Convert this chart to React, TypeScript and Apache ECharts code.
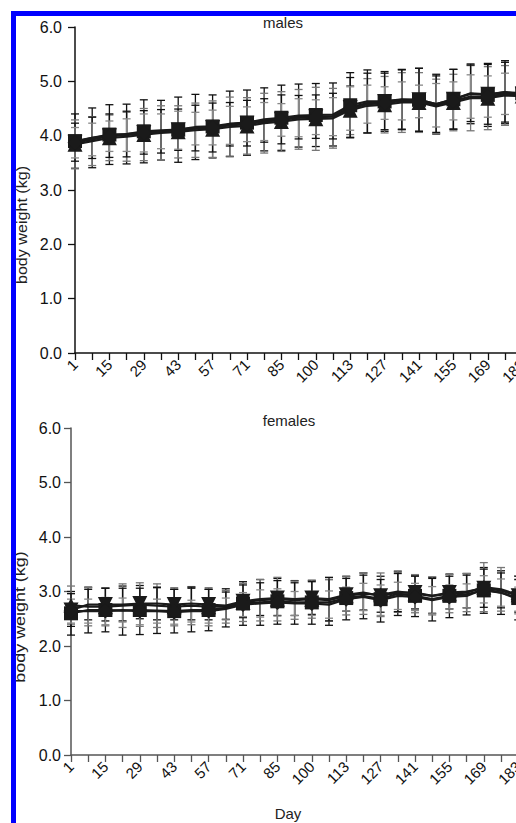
import React, { useEffect, useRef } from "react";
import * as echarts from "echarts";

// ---- data ----
const days = [1, 8, 15, 22, 29, 36, 43, 50, 57, 64, 71, 78, 85, 92, 100, 106, 113, 120, 127, 134, 141, 148, 155, 162, 169, 176, 183, 190];
const yTicks = [0, 1, 2, 3, 4, 5, 6];

// males: means (kg) per group
const maleSquare = [3.90, 3.96, 4.02, 4.03, 4.08, 4.10, 4.11, 4.16, 4.17, 4.22, 4.24, 4.30, 4.33, 4.37, 4.38, 4.39, 4.56, 4.63, 4.63, 4.67, 4.66, 4.58, 4.67, 4.77, 4.75, 4.80, 4.78, 4.81];
const maleTriangle = [3.84, 3.90, 3.96, 3.98, 4.02, 4.05, 4.07, 4.10, 4.12, 4.16, 4.18, 4.23, 4.26, 4.30, 4.31, 4.32, 4.47, 4.55, 4.57, 4.61, 4.61, 4.54, 4.61, 4.69, 4.69, 4.74, 4.73, 4.75];
const maleInverted = [3.88, 3.96, 4.00, 4.03, 4.06, 4.08, 4.11, 4.14, 4.15, 4.21, 4.23, 4.28, 4.30, 4.34, 4.35, 4.36, 4.52, 4.60, 4.63, 4.66, 4.66, 4.58, 4.67, 4.78, 4.76, 4.80, 4.76, 4.78];
const maleDiamond = [3.87, 3.93, 3.99, 4.01, 4.05, 4.08, 4.10, 4.13, 4.15, 4.19, 4.21, 4.26, 4.29, 4.33, 4.34, 4.35, 4.50, 4.58, 4.60, 4.64, 4.63, 4.56, 4.64, 4.72, 4.72, 4.77, 4.75, 4.77];
// males: SD
const maleSquareSd = [0.50, 0.55, 0.55, 0.55, 0.58, 0.55, 0.60, 0.60, 0.58, 0.60, 0.60, 0.58, 0.60, 0.58, 0.58, 0.58, 0.60, 0.58, 0.55, 0.55, 0.58, 0.55, 0.55, 0.55, 0.58, 0.58, 0.58, 0.58];
const maleTriangleSd = [0.45, 0.45, 0.42, 0.45, 0.48, 0.50, 0.48, 0.50, 0.52, 0.55, 0.52, 0.55, 0.55, 0.55, 0.58, 0.55, 0.45, 0.50, 0.52, 0.55, 0.55, 0.50, 0.52, 0.60, 0.58, 0.55, 0.55, 0.55];
const maleInvertedSd = [0.35, 0.38, 0.40, 0.42, 0.40, 0.40, 0.38, 0.42, 0.45, 0.40, 0.42, 0.40, 0.45, 0.40, 0.40, 0.42, 0.55, 0.55, 0.52, 0.55, 0.58, 0.52, 0.55, 0.52, 0.55, 0.55, 0.55, 0.55];
const maleDiamondSd = [0.28, 0.30, 0.28, 0.30, 0.35, 0.32, 0.35, 0.30, 0.32, 0.35, 0.32, 0.35, 0.30, 0.35, 0.32, 0.35, 0.40, 0.35, 0.30, 0.35, 0.30, 0.40, 0.35, 0.40, 0.38, 0.38, 0.38, 0.40];

// females: means (kg) per group
const femaleSquare = [2.60, 2.66, 2.66, 2.65, 2.66, 2.65, 2.64, 2.66, 2.66, 2.70, 2.78, 2.80, 2.82, 2.80, 2.80, 2.80, 2.88, 2.92, 2.86, 2.96, 2.92, 2.86, 2.92, 2.95, 3.02, 2.98, 2.88, 2.85];
const femaleTriangle = [2.75, 2.72, 2.72, 2.74, 2.76, 2.74, 2.72, 2.74, 2.72, 2.72, 2.80, 2.84, 2.86, 2.84, 2.86, 2.84, 2.92, 2.96, 2.94, 3.00, 2.96, 2.92, 2.96, 2.98, 3.08, 3.04, 2.94, 2.90];
const femaleInverted = [2.66, 2.76, 2.76, 2.76, 2.78, 2.78, 2.76, 2.78, 2.76, 2.74, 2.82, 2.86, 2.88, 2.86, 2.88, 2.86, 2.94, 2.98, 2.92, 2.98, 2.98, 2.92, 2.98, 3.00, 3.06, 3.02, 2.92, 2.92];
const femaleDiamond = [2.64, 2.64, 2.64, 2.66, 2.64, 2.64, 2.62, 2.64, 2.64, 2.68, 2.76, 2.78, 2.80, 2.78, 2.78, 2.76, 2.86, 2.90, 2.84, 2.92, 2.90, 2.84, 2.90, 2.92, 3.04, 2.98, 2.86, 2.86];
// females: SD
const femaleSquareSd = [0.40, 0.42, 0.40, 0.45, 0.45, 0.42, 0.40, 0.40, 0.38, 0.35, 0.40, 0.42, 0.42, 0.40, 0.40, 0.42, 0.40, 0.42, 0.42, 0.40, 0.38, 0.40, 0.40, 0.38, 0.42, 0.40, 0.40, 0.40];
const femaleTriangleSd = [0.35, 0.35, 0.35, 0.40, 0.40, 0.40, 0.35, 0.35, 0.35, 0.30, 0.35, 0.38, 0.40, 0.35, 0.35, 0.38, 0.35, 0.38, 0.40, 0.38, 0.35, 0.35, 0.35, 0.35, 0.45, 0.40, 0.35, 0.35];
const femaleInvertedSd = [0.30, 0.28, 0.30, 0.30, 0.28, 0.30, 0.28, 0.30, 0.28, 0.25, 0.30, 0.30, 0.32, 0.30, 0.30, 0.40, 0.30, 0.32, 0.30, 0.35, 0.30, 0.32, 0.30, 0.30, 0.35, 0.32, 0.30, 0.30];
const femaleDiamondSd = [0.22, 0.22, 0.25, 0.22, 0.25, 0.22, 0.22, 0.20, 0.22, 0.20, 0.22, 0.25, 0.25, 0.22, 0.22, 0.25, 0.22, 0.25, 0.28, 0.25, 0.25, 0.25, 0.22, 0.22, 0.25, 0.25, 0.22, 0.22];

const FONT = "Liberation Sans, Arial, sans-serif";

type Group = { mean: number[]; sd: number[]; symbol: string; size: number; rotate: number; barColor: string };

const maleGroups: Group[] = [
  { mean: maleSquare, sd: maleSquareSd, symbol: "rect", size: 14, rotate: 0, barColor: "#111" },
  { mean: maleTriangle, sd: maleTriangleSd, symbol: "triangle", size: 15, rotate: 0, barColor: "#777" },
  { mean: maleInverted, sd: maleInvertedSd, symbol: "triangle", size: 15, rotate: 180, barColor: "#111" },
  { mean: maleDiamond, sd: maleDiamondSd, symbol: "diamond", size: 15, rotate: 0, barColor: "#888" },
];
const femaleGroups: Group[] = [
  { mean: femaleSquare, sd: femaleSquareSd, symbol: "rect", size: 14, rotate: 0, barColor: "#111" },
  { mean: femaleTriangle, sd: femaleTriangleSd, symbol: "triangle", size: 15, rotate: 0, barColor: "#777" },
  { mean: femaleInverted, sd: femaleInvertedSd, symbol: "triangle", size: 15, rotate: 180, barColor: "#111" },
  { mean: femaleDiamond, sd: femaleDiamondSd, symbol: "diamond", size: 15, rotate: 0, barColor: "#888" },
];

function buildSeries(groups: Group[], gi: number) {
  const out: any[] = [];
  groups.forEach((g) => {
    const color = g.barColor;
    out.push({
      type: "custom",
      xAxisIndex: gi,
      yAxisIndex: gi,
      z: 2,
      encode: { x: 0, y: [1, 2] },
      data: g.mean.map((m, i) => [i, m - g.sd[i], m + g.sd[i]]),
      renderItem: (params: any, api: any) => {
        const idx = api.value(0);
        const lo = api.coord([idx, api.value(1)]);
        const hi = api.coord([idx, api.value(2)]);
        const w = 4;
        const style = { stroke: color, lineWidth: 1.3 };
        return {
          type: "group",
          children: [
            { type: "line", shape: { x1: lo[0], y1: hi[1], x2: lo[0], y2: lo[1] }, style },
            { type: "line", shape: { x1: hi[0] - w, y1: hi[1], x2: hi[0] + w, y2: hi[1] }, style },
            { type: "line", shape: { x1: lo[0] - w, y1: lo[1], x2: lo[0] + w, y2: lo[1] }, style },
          ],
        };
      },
    });
    out.push({
      type: "line",
      xAxisIndex: gi,
      yAxisIndex: gi,
      z: 3,
      data: g.mean,
      symbol: g.symbol,
      symbolSize: g.size,
      symbolRotate: g.rotate,
      showSymbol: true,
      itemStyle: { color: "#1a1a1a" },
      lineStyle: { color: "#1a1a1a", width: 2.2 },
    });
  });
  return out;
}

function xAxis(gi: number, color: string) {
  return {
    type: "category",
    gridIndex: gi,
    data: days.map(String),
    boundaryGap: false,
    axisLine: { show: true, lineStyle: { color, width: 1.5 } },
    axisTick: { show: true, interval: 0, length: 7, lineStyle: { color, width: 1.3 } },
    axisLabel: { interval: 1, rotate: 45, margin: 9, color: "#111", fontSize: 15, fontFamily: FONT, hideOverlap: false },
    splitLine: { show: false },
  };
}

function yAxis(gi: number, color: string, margin: number) {
  return {
    type: "value",
    gridIndex: gi,
    min: yTicks[0],
    max: yTicks[yTicks.length - 1],
    interval: 1,
    axisLine: { show: true, lineStyle: { color, width: 1.5 } },
    axisTick: { show: true, length: 7, lineStyle: { color, width: 1.3 } },
    axisLabel: { margin, color: "#111", fontSize: 16, fontFamily: FONT, formatter: (v: number) => v.toFixed(1) },
    splitLine: { show: false },
  };
}

export default function App() {
  const ref = useRef<HTMLDivElement>(null);
  useEffect(() => {
    if (!ref.current) return;
    const chart = echarts.init(ref.current, undefined, { renderer: "svg" });
    const span = 17.2 * (days.length - 1);
    chart.setOption({
      animation: false,
      backgroundColor: "#ffffff",
      grid: [
        { left: 75, top: 27, width: span, height: 326, containLabel: false, outerBoundsMode: "none" },
        { left: 71, top: 428, width: span, height: 327, containLabel: false, outerBoundsMode: "none" },
      ],
      xAxis: [xAxis(0, "#111"), xAxis(1, "#555")],
      yAxis: [yAxis(0, "#111", 13), yAxis(1, "#555", 10)],
      series: [...buildSeries(maleGroups, 0), ...buildSeries(femaleGroups, 1)],
      graphic: [
        { type: "text", x: 283, y: 22, z: 50, style: { text: "males", font: `15px ${FONT}`, fill: "#222", align: "center", verticalAlign: "middle" } },
        { type: "text", x: 289, y: 420, z: 50, style: { text: "females", font: `15px ${FONT}`, fill: "#222", align: "center", verticalAlign: "middle" } },
        { type: "text", x: 288, y: 813, z: 50, style: { text: "Day", font: `15px ${FONT}`, fill: "#222", align: "center", verticalAlign: "middle" } },
        { type: "text", x: 22, y: 225, rotation: Math.PI / 2, scaleX: 1.15, z: 50, style: { text: "body weight (kg)", font: `14px ${FONT}`, fill: "#222", align: "center", verticalAlign: "middle" } },
        { type: "text", x: 20, y: 617, rotation: Math.PI / 2, scaleX: 1.28, z: 50, style: { text: "body weight (kg)", font: `14px ${FONT}`, fill: "#222", align: "center", verticalAlign: "middle" } },
        { type: "rect", z: 100, shape: { x: 13.5, y: 13.5, width: 700, height: 1000 }, style: { fill: "none", stroke: "#0000ff", lineWidth: 5 } },
      ],
    });
    return () => chart.dispose();
  }, []);
  return <div ref={ref} style={{ position: "absolute", left: 0, top: 0, width: 516, height: 823 }} />;
}
